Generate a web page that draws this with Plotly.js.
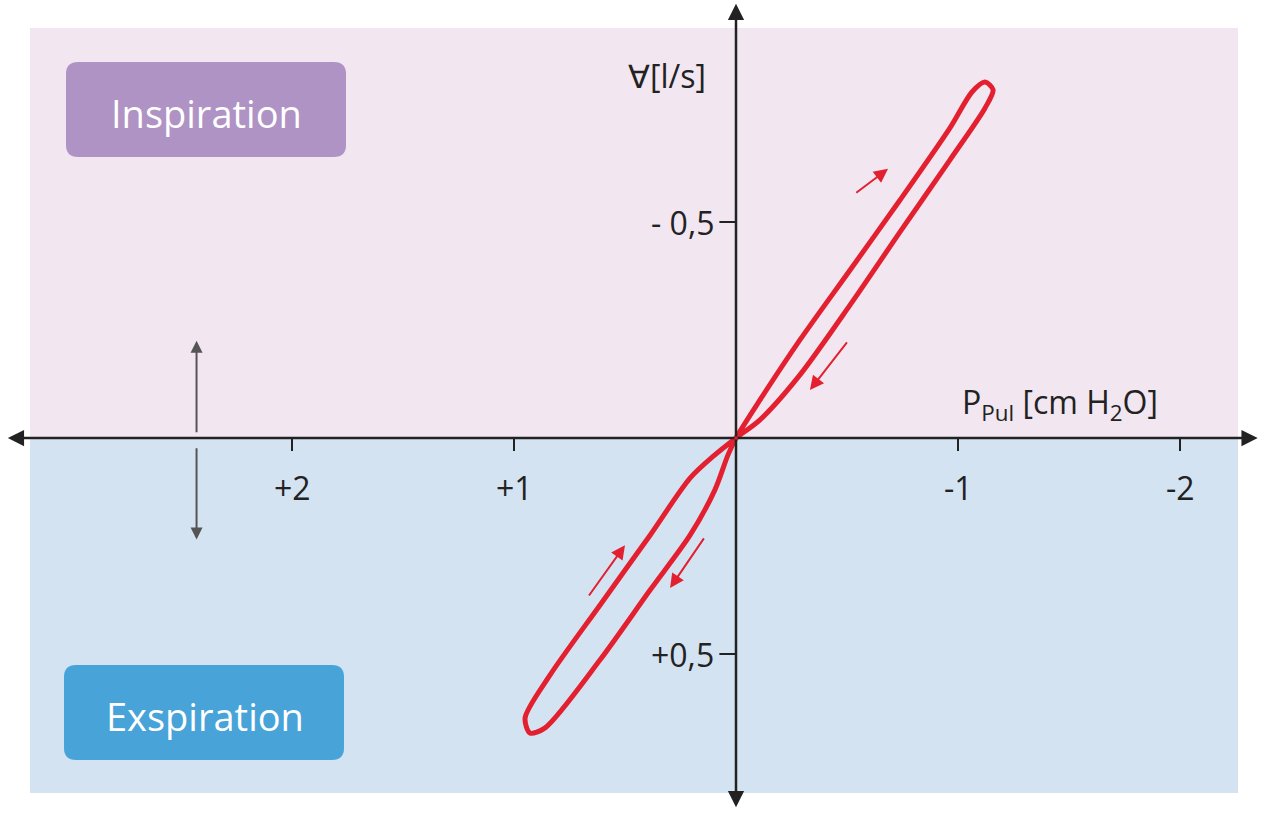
<!DOCTYPE html>
<html>
<head>
<meta charset="utf-8">
<script src="https://cdn.plot.ly/plotly-3.0.1.min.js"></script>
<style>html,body{margin:0;padding:0;background:#fff}#chart{width:1266px;height:813px}</style>
</head>
<body>
<div id="chart"></div>
<script>
// loop: pressure P_Pul (cm H2O, positive to the left) vs flow (l/s, negative = up)
var loopP = [0, -0.108, -0.288, -0.514, -0.739, -0.964, -1.063, -1.122, -1.158, -1.122, -0.964, -0.739, -0.514, -0.288, -0.108, 0,
             0.095, 0.207, 0.387, 0.613, 0.838, 0.950, 0.928, 0.860, 0.613, 0.387, 0.207, 0.095, 0.036, 0];
var loopV = [0, -0.088, -0.227, -0.389, -0.551, -0.718, -0.801, -0.824, -0.806, -0.764, -0.644, -0.477, -0.308, -0.146, -0.042, 0,
             0.039, 0.093, 0.225, 0.387, 0.549, 0.648, 0.683, 0.671, 0.514, 0.352, 0.225, 0.120, 0.039, 0];

var xTicks = [2, 1, -1, -2];
var xTickText = ['+2', '+1', '-1', '-2'];
var yTicks = [-0.5, 0.5];
var yTickText = ['- 0,5', '+0,5'];

// direction arrows along the loop: [tail P, tail V, head P, head V]
var dirArrows = [
  [-0.535, -0.565, -0.685, -0.623],
  [-0.505, -0.225, -0.333, -0.111],
  [0.667, 0.368, 0.500, 0.248],
  [0.140, 0.229, 0.297, 0.347]
];

var red = '#e3202f';
var font = 'Open Sans, Lato, sans-serif';

var annotations = [];
var shapes = [
  {type:'rect', xref:'paper', yref:'paper', x0:30/1266, x1:1238/1266, y0:1-438/813, y1:1-28/813, fillcolor:'#f2e6f1', line:{width:0}, layer:'below'},
  {type:'rect', xref:'paper', yref:'paper', x0:30/1266, x1:1238/1266, y0:1-793/813, y1:1-438/813, fillcolor:'#d4e3f2', line:{width:0}, layer:'below'}
];

// pixel -> data helpers for the rounded label boxes
function px(x) { return (736 - x) / 222; }
function py(y) { return (y - 438) / 432; }
function roundBox(x0, y0, x1, y1, r, color) {
  var p = 'M' + px(x0 + r) + ',' + py(y0) +
    ' L' + px(x1 - r) + ',' + py(y0) + ' Q' + px(x1) + ',' + py(y0) + ' ' + px(x1) + ',' + py(y0 + r) +
    ' L' + px(x1) + ',' + py(y1 - r) + ' Q' + px(x1) + ',' + py(y1) + ' ' + px(x1 - r) + ',' + py(y1) +
    ' L' + px(x0 + r) + ',' + py(y1) + ' Q' + px(x0) + ',' + py(y1) + ' ' + px(x0) + ',' + py(y1 - r) +
    ' L' + px(x0) + ',' + py(y0 + r) + ' Q' + px(x0) + ',' + py(y0) + ' ' + px(x0 + r) + ',' + py(y0) + ' Z';
  shapes.push({type:'path', path:p, fillcolor:color, line:{width:0}});
}

// axes with arrowheads at both ends
function arrow(x, y, ax, ay, color, w, size) {
  annotations.push({x:x, y:y, ax:ax, ay:ay, xref:'x', yref:'y', axref:'x', ayref:'y', text:'',
    showarrow:true, arrowhead:2, arrowsize:size, arrowwidth:w, arrowcolor:color});
}
arrow(3.28, 0, 0, 0, '#222', 2.5, 1.3);
arrow(-2.35, 0, 0, 0, '#222', 2.5, 1.3);
arrow(0, -1.005, 0, 0, '#222', 2.5, 1.3);
arrow(0, 0.855, 0, 0, '#222', 2.5, 1.3);
// grey double arrow on the left
arrow(2.43, -0.225, 2.43, -0.01, '#555', 2, 1.2);
arrow(2.43, 0.235, 2.43, 0.02, '#555', 2, 1.2);

dirArrows.forEach(function (a) { arrow(a[2], a[3], a[0], a[1], red, 2, 1.4); });

xTicks.forEach(function (t, i) {
  shapes.push({type:'line', x0:t, x1:t, y0:0, y1:0.03, line:{color:'#222', width:2}});
  annotations.push({x:t, y:0.115, text:xTickText[i], showarrow:false, font:{family:font, size:32, color:'#222'}});
});
yTicks.forEach(function (t, i) {
  shapes.push({type:'line', x0:0, x1:0.075, y0:t, y1:t, line:{color:'#222', width:2}});
  annotations.push({x:0.09, y:t, text:yTickText[i], showarrow:false, xanchor:'right', font:{family:font, size:32, color:'#222'}});
});

annotations.push({x:0.31, y:-0.84, text:'∀[l/s]', showarrow:false, font:{family:font, size:32, color:'#222'}});
annotations.push({x:-1.46, y:-0.078, text:'P<sub>Pul</sub> [cm H<sub>2</sub>O]', showarrow:false, font:{family:font, size:32, color:'#222'}});

// category boxes
roundBox(66, 62, 346, 157, 12, '#af93c4');
roundBox(64, 665, 344, 760, 12, '#47a3d8');
annotations.push({xref:'paper', yref:'paper', x:206/1266, y:1-113/813, xanchor:'center', yanchor:'middle', text:'Inspiration', showarrow:false, font:{family:font, size:38, color:'#fff'}});
annotations.push({xref:'paper', yref:'paper', x:205/1266, y:1-716/813, xanchor:'center', yanchor:'middle', text:'Exspiration', showarrow:false, font:{family:font, size:38, color:'#fff'}});

var trace = {x:loopP, y:loopV, mode:'lines', type:'scatter',
  line:{color:red, width:5, shape:'spline', smoothing:0.8}, hoverinfo:'none'};

var layout = {
  width:1266, height:813, margin:{l:0, r:0, t:0, b:0},
  paper_bgcolor:'#fff', plot_bgcolor:'rgba(0,0,0,0)', showlegend:false,
  xaxis:{range:[736/222, -(1266-736)/222], visible:false, fixedrange:true},
  yaxis:{range:[(813-438)/432, -438/432], visible:false, fixedrange:true},
  shapes:shapes, annotations:annotations
};

Plotly.newPlot('chart', [trace], layout, {displayModeBar:false, staticPlot:true});
</script>
</body>
</html>
